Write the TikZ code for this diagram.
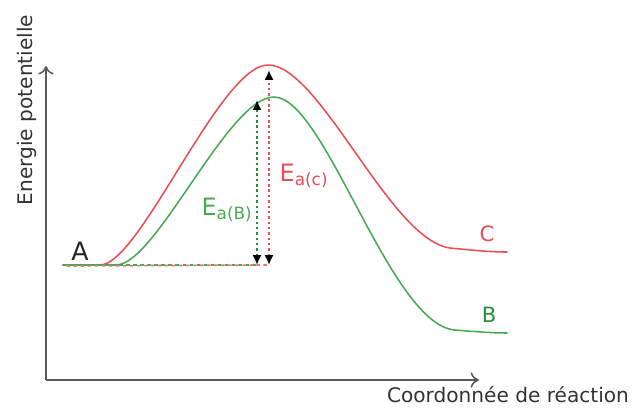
\documentclass[tikz,border=0pt]{standalone}
\usepackage{fontspec}
\setmainfont{DejaVu Sans}
\usetikzlibrary{arrows.meta}
\usetikzlibrary{calc}
\tikzset{>=latex}
\colorlet{axiscol}{black!65}
\definecolor{myred}{RGB}{232,78,84}
\definecolor{mygreen}{RGB}{72,170,80}
\definecolor{mydarkgreen}{RGB}{40,140,55}
\tikzstyle{axis}=[draw=axiscol,line width=1.2pt,-{To[length=6pt,width=11pt,line width=1.1pt]}]
\tikzstyle{curve}=[line width=1.1pt,line cap=round]
\tikzstyle{level}=[line width=1.2pt,dash pattern=on 2.5pt off 2.5pt]
\tikzstyle{barrier}=[line width=1.7pt,dash pattern=on 1.8pt off 2pt,
  {Latex[length=7pt,width=6.5pt,color=black]}-{Latex[length=7pt,width=6.5pt,color=black]}]
\tikzstyle{axlabel}=[text=black!80,font=\fontsize{14.3}{16}\selectfont]

\begin{document}
\begin{tikzpicture}[x=0.025cm,y=-0.025cm]
  \useasboundingbox (0,0) rectangle (643,408);
  \def\yA{265}   % level of A
  \def\xA{63}    % start of the curves
  \def\xE{507}   % end of the curves

  % axes
  \coordinate (O) at (46,380);
  \coordinate (ytop) at (46,66);
  \coordinate (xend) at (479,380);
  \draw[axis] (O) -- (ytop);
  \draw[axis] (O) -- (xend);
  \node[axlabel,rotate=90] (ylab) at (27,110) {Energie potentielle};
  \node[axlabel] (xlab) at (508,395) {Coordonnée de réaction};

  % reaction A -> C (red)
  \draw[curve,myred] (\xA,\yA) -- (100,\yA)
    .. controls (140,\yA) and (220,65) .. (268,65)
    .. controls (320,65) and (390,240) .. (450,248)
    .. controls (470,250) and (490,252) .. (\xE,252);
  % reaction A -> B (green)
  \draw[curve,mygreen] (\xA,\yA) -- (116,\yA)
    .. controls (156,\yA) and (228,97) .. (274,97)
    .. controls (325,97) and (390,325) .. (455,330)
    .. controls (478,332) and (495,333) .. (\xE,333);

  % activation energies
  \coordinate (baseB) at (257,\yA);
  \coordinate (topB) at (257,100);
  \coordinate (baseC) at (269,\yA);
  \coordinate (topC) at (269,70);
  \draw[level,mygreen] (\xA,\yA) -- (baseB);
  \draw[level,myred!80,dash phase=2.5pt] (\xA,\yA+1) -- (baseC);
  \draw[barrier,mydarkgreen] (baseB) -- (topB);
  \draw[barrier,myred] (baseC) -- (topC);

  % labels
  \node[text=mygreen,font=\fontsize{17}{19}\selectfont] (EaB) at (227,210)
    {E\textsubscript{\fontsize{12}{14}\selectfont a(B)}};
  \node[text=myred,font=\fontsize{17}{19}\selectfont] (EaC) at (304,176)
    {E\textsubscript{\fontsize{12}{14}\selectfont a(c)}};
  \node[font=\fontsize{18}{20}\selectfont,text=black!85] (A) at (80,251) {A};
  \node[font=\fontsize{15}{17}\selectfont,text=myred] (C) at (487,234) {C};
  \node[font=\fontsize{15}{17}\selectfont,text=mydarkgreen] (B) at (489,315) {B};
\end{tikzpicture}
\end{document}
